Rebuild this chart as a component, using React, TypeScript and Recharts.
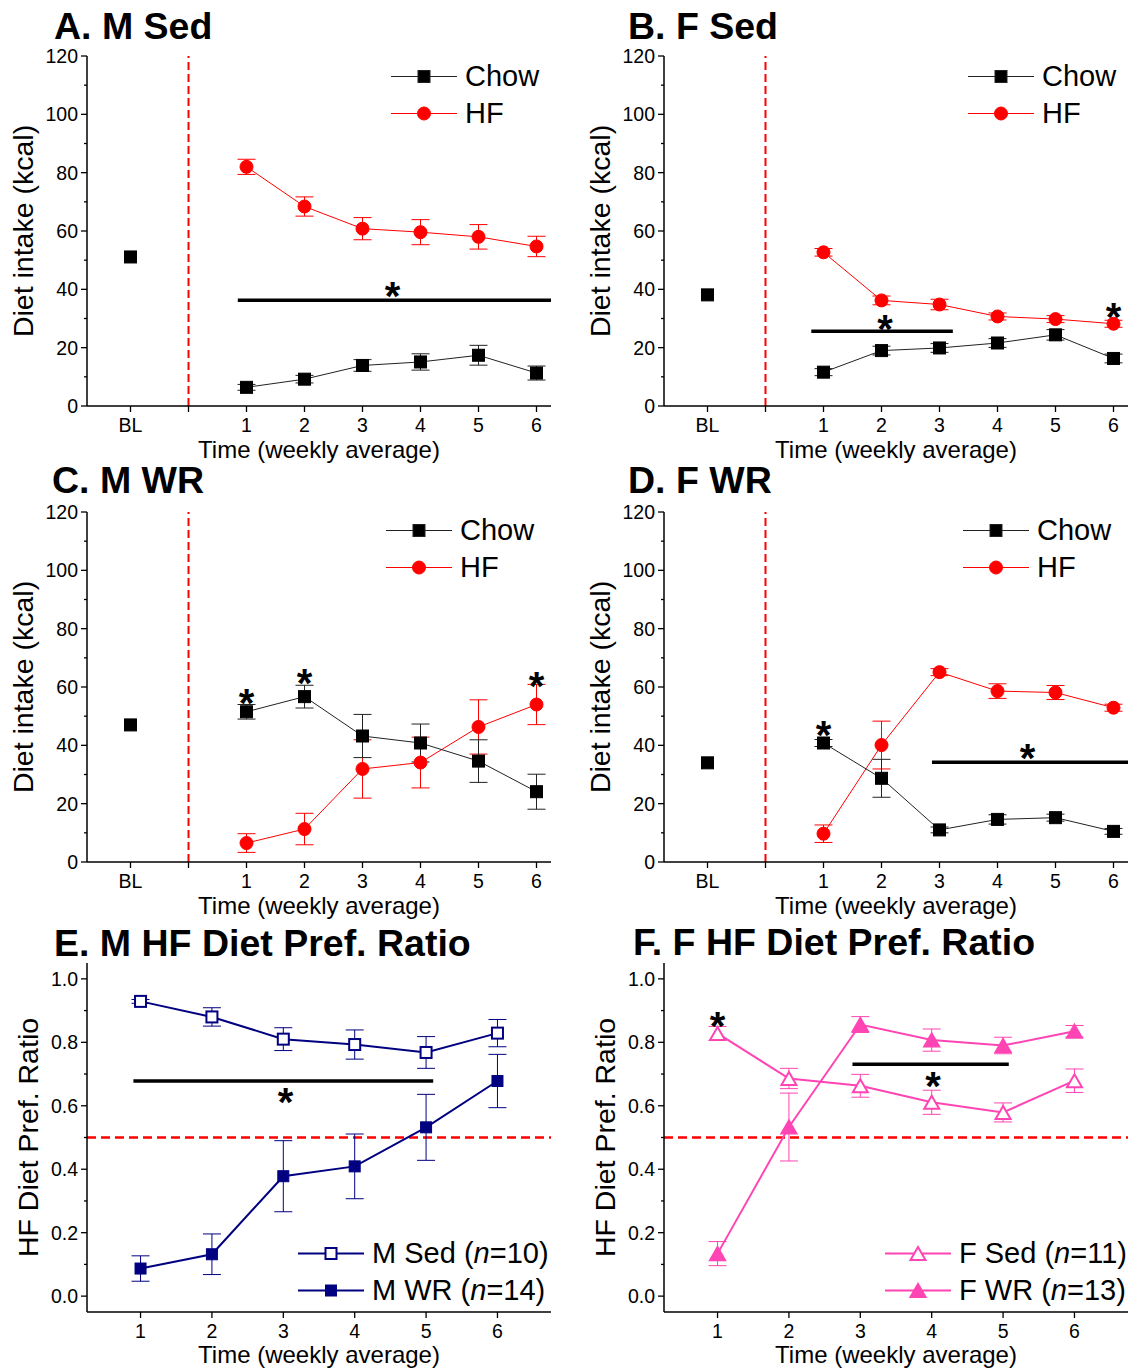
import React from 'react';
import {
  ComposedChart,
  Line,
  Scatter,
  XAxis,
  YAxis,
  ErrorBar,
  ReferenceLine,
  Legend,
  Label,
} from 'recharts';

const FONT = '"Liberation Sans", Arial, sans-serif';
const RED = '#FF0000';
const BLACK = '#000000';
const NAVY = '#000080';
const PINK = '#FF44B4';

const weeks = [1, 2, 3, 4, 5, 6];
const intakeTicks = [0, 10, 20, 30, 40, 50, 60, 70, 80, 90, 100, 110, 120];
const intakeXTicks = [-1, 0, 1, 2, 3, 4, 5, 6];
const ratioTicks = [0, 0.1, 0.2, 0.3, 0.4, 0.5, 0.6, 0.7, 0.8, 0.9, 1.0];

// A. M Sed
const mSedBL = 51.1;
const mSedChow = [6.4, 9.2, 13.9, 15.1, 17.4, 11.3];
const mSedChowErr = [1.0, 1.3, 2.0, 2.8, 3.4, 2.4];
const mSedHF = [82.0, 68.4, 60.8, 59.6, 58.0, 54.7];
const mSedHFErr = [2.6, 3.3, 3.8, 4.3, 4.2, 3.5];

// B. F Sed
const fSedBL = 38.1;
const fSedChow = [11.6, 19.0, 19.9, 21.6, 24.4, 16.3];
const fSedChowErr = [1.2, 1.5, 1.5, 1.5, 1.8, 1.5];
const fSedHF = [52.7, 36.2, 34.8, 30.7, 29.8, 28.2];
const fSedHFErr = [1.3, 1.5, 1.8, 1.2, 1.2, 1.2];

// C. M WR
const mWrBL = 47.0;
const mWrChow = [51.5, 56.7, 43.2, 40.8, 34.6, 24.1];
const mWrChowErr = [2.5, 3.9, 7.4, 6.5, 7.3, 6.0];
const mWrHF = [6.5, 11.3, 31.9, 34.1, 46.3, 54.0];
const mWrHFErr = [3.2, 5.4, 10.0, 8.7, 9.3, 6.9];

// D. F WR
const fWrBL = 34.0;
const fWrChow = [40.8, 28.7, 11.0, 14.6, 15.2, 10.5];
const fWrChowErr = [1.2, 6.5, 1.0, 1.6, 1.2, 1.0];
const fWrHF = [9.7, 40.1, 65.1, 58.6, 58.1, 52.9];
const fWrHFErr = [3.0, 8.2, 1.2, 2.5, 2.4, 1.2];

// E. M HF diet preference ratio
const mSedRatio = [0.929, 0.88, 0.81, 0.793, 0.768, 0.829];
const mSedRatioErr = [0.006, 0.029, 0.036, 0.046, 0.05, 0.043];
const mWrRatio = [0.087, 0.132, 0.378, 0.409, 0.532, 0.678];
const mWrRatioErr = [0.04, 0.064, 0.112, 0.102, 0.104, 0.084];

// F. F HF diet preference ratio
const fSedRatio = [0.828, 0.686, 0.663, 0.611, 0.579, 0.679];
const fSedRatioErr = [0.022, 0.032, 0.036, 0.038, 0.03, 0.037];
const fWrRatio = [0.134, 0.533, 0.856, 0.807, 0.79, 0.835];
const fWrRatioErr = [0.038, 0.107, 0.025, 0.035, 0.026, 0.018];

// significance bars and asterisks
const sigA = [{ x1: 0.85, x2: 6.25, y: 36.3 }];
const starsA = [{ x: 3.52, y: 40.7 }];
const sigB = [{ x1: 0.79, x2: 3.23, y: 25.6 }];
const starsB = [{ x: 2.06, y: 29.6 }, { x: 6, y: 33.6 }];
const sigC: { x1: number; x2: number; y: number }[] = [];
const starsC = [{ x: 1, y: 57.5 }, { x: 2, y: 64.3 }, { x: 6, y: 63.5 }];
const sigD = [{ x1: 2.87, x2: 6.25, y: 34.2 }];
const starsD = [{ x: 1, y: 46.6 }, { x: 4.52, y: 38.6 }];
const sigE = [{ x1: 0.9, x2: 5.1, y: 0.678 }];
const starsE = [{ x: 3.03, y: 0.64 }];
const sigF = [{ x1: 2.89, x2: 5.08, y: 0.731 }];
const starsF = [{ x: 1, y: 0.88 }, { x: 4.02, y: 0.69 }];

const toPoints = (vals: number[], errs: number[]) =>
  weeks.map((x, i) => ({ x, y: vals[i], e: errs[i] }));

type Shape = 'square' | 'circle' | 'triangle';

function Marker({ cx, cy, shape, fill, stroke, size }: any) {
  if (cx == null || cy == null) return null;
  if (shape === 'circle') {
    return <circle cx={cx} cy={cy} r={size / 2} fill={fill} stroke={stroke} strokeWidth={1} />;
  }
  if (shape === 'triangle') {
    const h = size * 0.87;
    const pts = `${cx - size / 2},${cy + h / 2} ${cx + size / 2},${cy + h / 2} ${cx},${cy - h / 2}`;
    return <polygon points={pts} fill={fill} stroke={stroke} strokeWidth={2} />;
  }
  const open = fill === '#fff';
  return (
    <rect
      x={cx - size / 2}
      y={cy - size / 2}
      width={size}
      height={size}
      fill={fill}
      stroke={stroke}
      strokeWidth={open ? 2 : 1}
    />
  );
}

const dotFn = (shape: Shape, fill: string, stroke: string, size: number) => (p: any) => (
  <Marker key={`d-${p.index}`} cx={p.cx} cy={p.cy} shape={shape} fill={fill} stroke={stroke} size={size} />
);

const starShape = (p: any) => (
  <text
    x={p.cx}
    y={p.cy + 23}
    textAnchor="middle"
    fontFamily={FONT}
    fontWeight="bold"
    fontSize={40}
    fill="#000"
  >
    *
  </text>
);

const yTick = (fmt: (v: number) => string, isMajor: (v: number) => boolean) => (p: any) => {
  const v = p.payload.value;
  const major = isMajor(v);
  return (
    <g>
      <line x1={p.x - (major ? 6 : 3)} x2={p.x} y1={p.y} y2={p.y} stroke="#000" strokeWidth={1.3} />
      {major && (
        <text x={p.x - 9} y={p.y + 7} textAnchor="end" fontFamily={FONT} fontSize={19.5} fill="#000">
          {fmt(v)}
        </text>
      )}
    </g>
  );
};

const xTick = (fmt: (v: number) => string) => (p: any) => (
  <g>
    <line x1={p.x} x2={p.x} y1={p.y} y2={p.y + 6} stroke="#000" strokeWidth={1.3} />
    <text x={p.x} y={p.y + 26} textAnchor="middle" fontFamily={FONT} fontSize={19.5} fill="#000">
      {fmt(p.payload.value)}
    </text>
  </g>
);

interface LegendItem {
  label: React.ReactNode;
  color: string;
  lineWidth: number;
  shape: Shape;
  fill: string;
  size: number;
}

function LegendBox({ items }: { items: LegendItem[] }) {
  return (
    <div style={{ fontFamily: FONT, fontSize: 29, color: '#000' }}>
      {items.map((it, i) => (
        <div key={i} style={{ display: 'flex', alignItems: 'center', height: 37 }}>
          <svg width={66} height={37} style={{ display: 'block' }}>
            <line x1={0} x2={66} y1={18.5} y2={18.5} stroke={it.color} strokeWidth={it.lineWidth} />
            <Marker cx={33} cy={18.5} shape={it.shape} fill={it.fill} stroke={it.color} size={it.size} />
          </svg>
          <span style={{ marginLeft: 8, lineHeight: '37px', whiteSpace: 'nowrap' }}>{it.label}</span>
        </div>
      ))}
    </div>
  );
}

// baseline sits about 28px below the top of the 30px line box
function Title({ text, left, baseline }: { text: string; left: number; baseline: number }) {
  return (
    <div
      style={{
        position: 'absolute',
        left,
        top: baseline - 28,
        fontFamily: FONT,
        fontWeight: 'bold',
        fontSize: 37.5,
        lineHeight: '30px',
        whiteSpace: 'nowrap',
        color: '#000',
      }}
    >
      {text}
    </div>
  );
}

interface IntakeProps {
  left: number;
  top: number;
  width: number;
  bl: number;
  chow: number[];
  chowErr: number[];
  hf: number[];
  hfErr: number[];
  sig: { x1: number; x2: number; y: number }[];
  stars: { x: number; y: number }[];
  legend: { left: number; top: number };
}

function IntakePanel(props: IntakeProps) {
  const { left, top, width, bl, chow, chowErr, hf, hfErr, sig, stars, legend } = props;
  const chowPts = toPoints(chow, chowErr);
  const hfPts = toPoints(hf, hfErr);
  const items: LegendItem[] = [
    { label: 'Chow', color: '#222', lineWidth: 1, shape: 'square', fill: BLACK, size: 12 },
    { label: 'HF', color: RED, lineWidth: 1, shape: 'circle', fill: RED, size: 13 },
  ];
  return (
    <div style={{ position: 'absolute', left, top }}>
      <ComposedChart width={width} height={470} margin={{ top: 56, right: width === 560 ? 9 : 5, bottom: 10, left: 0 }}>
        <XAxis
          type="number"
          dataKey="x"
          domain={[-1.75, 6.25]}
          ticks={intakeXTicks}
          interval={0}
          height={54}
          tickSize={0}
          tickMargin={0}
          tickLine={false}
          axisLine={{ stroke: '#000', strokeWidth: 1.5 }}
          tick={xTick((v) => (v === -1 ? 'BL' : v === 0 ? '' : String(v)))}
          allowDataOverflow
        >
          <Label value="Time (weekly average)" position="insideBottom" offset={2} fontSize={24} fill="#000" fontFamily={FONT} />
        </XAxis>
        <YAxis
          type="number"
          domain={[0, 120]}
          ticks={intakeTicks}
          interval={0}
          width={87}
          tickSize={0}
          tickMargin={0}
          tickLine={false}
          axisLine={{ stroke: '#000', strokeWidth: 1.5 }}
          tick={yTick((v) => String(v), (v) => v % 20 === 0)}
          allowDataOverflow
        >
          <Label
            value="Diet intake (kcal)"
            angle={-90}
            position="insideLeft"
            offset={23}
            fontSize={28.5}
            fill="#000"
            fontFamily={FONT}
            style={{ textAnchor: 'middle' }}
          />
        </YAxis>
        <ReferenceLine x={0} stroke={RED} strokeWidth={2} strokeDasharray="8 4" />
        {sig.map((s, i) => (
          <ReferenceLine
            key={i}
            segment={[{ x: s.x1, y: s.y }, { x: s.x2, y: s.y }]}
            stroke="#000"
            strokeWidth={3.5}
          />
        ))}
        <Line
          data={hfPts}
          dataKey="y"
          stroke={RED}
          strokeWidth={1}
          dot={dotFn('circle', RED, RED, 13)}
          activeDot={false}
          isAnimationActive={false}
          legendType="none"
        >
          <ErrorBar dataKey="e" width={9} stroke={RED} strokeWidth={1} direction="y" />
        </Line>
        <Line
          data={chowPts}
          dataKey="y"
          stroke="#222"
          strokeWidth={1}
          dot={dotFn('square', BLACK, BLACK, 12)}
          activeDot={false}
          isAnimationActive={false}
          legendType="none"
        >
          <ErrorBar dataKey="e" width={9} stroke="#222" strokeWidth={1} direction="y" />
        </Line>
        <Scatter
          data={[{ x: -1, y: bl }]}
          dataKey="y"
          shape={(p: any) => <Marker cx={p.cx} cy={p.cy} shape="square" fill={BLACK} stroke={BLACK} size={12} />}
          isAnimationActive={false}
          legendType="none"
        />
        <Scatter data={stars} dataKey="y" shape={starShape} isAnimationActive={false} legendType="none" />
        <Legend
          layout="vertical"
          align="center"
          verticalAlign="middle"
          wrapperStyle={{ left: legend.left, top: legend.top }}
          content={() => <LegendBox items={items} />}
        />
      </ComposedChart>
    </div>
  );
}

interface RatioProps {
  left: number;
  top: number;
  width: number;
  color: string;
  sed: number[];
  sedErr: number[];
  wr: number[];
  wrErr: number[];
  shape: Shape;
  size: number;
  sedLabel: [string, string];
  wrLabel: [string, string];
  sig: { x1: number; x2: number; y: number }[];
  stars: { x: number; y: number }[];
  legend: { left: number; top: number };
}

function RatioPanel(props: RatioProps) {
  const { left, top, width, color, sed, sedErr, wr, wrErr, shape, size, sig, stars, legend } = props;
  const sedPts = toPoints(sed, sedErr);
  const wrPts = toPoints(wr, wrErr);
  const lbl = (l: [string, string]) => (
    <>
      {l[0]} (<i>n</i>={l[1]})
    </>
  );
  const items: LegendItem[] = [
    { label: lbl(props.sedLabel), color, lineWidth: 2, shape, fill: '#fff', size },
    { label: lbl(props.wrLabel), color, lineWidth: 2, shape, fill: color, size },
  ];
  return (
    <div style={{ position: 'absolute', left, top }}>
      <ComposedChart width={width} height={460} margin={{ top: 53, right: width === 560 ? 9 : 5, bottom: 4, left: 0 }}>
        <XAxis
          type="number"
          dataKey="x"
          domain={[0.25, 6.75]}
          ticks={weeks}
          interval={0}
          height={54}
          tickSize={0}
          tickMargin={0}
          tickLine={false}
          axisLine={{ stroke: '#000', strokeWidth: 1.5 }}
          tick={xTick((v) => String(v))}
          allowDataOverflow
        >
          <Label value="Time (weekly average)" position="insideBottom" offset={3} fontSize={24} fill="#000" fontFamily={FONT} />
        </XAxis>
        <YAxis
          type="number"
          domain={[-0.05, 1.05]}
          ticks={ratioTicks}
          interval={0}
          width={87}
          tickSize={0}
          tickMargin={0}
          tickLine={false}
          axisLine={{ stroke: '#000', strokeWidth: 1.5 }}
          tick={yTick((v) => v.toFixed(1), (v) => Math.round(v * 10) % 2 === 0)}
          allowDataOverflow
        >
          <Label
            value="HF Diet Pref. Ratio"
            angle={-90}
            position="insideLeft"
            offset={28}
            fontSize={28.5}
            fill="#000"
            fontFamily={FONT}
            style={{ textAnchor: 'middle' }}
          />
        </YAxis>
        <ReferenceLine y={0.5} stroke={RED} strokeWidth={2.5} strokeDasharray="9 5" />
        {sig.map((s, i) => (
          <ReferenceLine
            key={i}
            segment={[{ x: s.x1, y: s.y }, { x: s.x2, y: s.y }]}
            stroke="#000"
            strokeWidth={3.5}
          />
        ))}
        <Line
          data={sedPts}
          dataKey="y"
          stroke={color}
          strokeWidth={2}
          dot={dotFn(shape, '#fff', color, size)}
          activeDot={false}
          isAnimationActive={false}
          legendType="none"
        >
          <ErrorBar dataKey="e" width={9} stroke={color} strokeWidth={1} direction="y" />
        </Line>
        <Line
          data={wrPts}
          dataKey="y"
          stroke={color}
          strokeWidth={2}
          dot={dotFn(shape, color, color, size)}
          activeDot={false}
          isAnimationActive={false}
          legendType="none"
        >
          <ErrorBar dataKey="e" width={9} stroke={color} strokeWidth={1} direction="y" />
        </Line>
        <Scatter data={stars} dataKey="y" shape={starShape} isAnimationActive={false} legendType="none" />
        <Legend
          layout="vertical"
          align="center"
          verticalAlign="middle"
          wrapperStyle={{ left: legend.left, top: legend.top }}
          content={() => <LegendBox items={items} />}
        />
      </ComposedChart>
    </div>
  );
}

export default function App() {
  return (
    <div style={{ position: 'absolute', left: 0, top: 0, width: 1133, height: 1370, background: '#fff', overflow: 'hidden' }}>
      <IntakePanel
        left={0}
        top={0}
        width={560}
        bl={mSedBL}
        chow={mSedChow}
        chowErr={mSedChowErr}
        hf={mSedHF}
        hfErr={mSedHFErr}
        sig={sigA}
        stars={starsA}
        legend={{ left: 391, top: 58 }}
      />
      <IntakePanel
        left={577}
        top={0}
        width={556}
        bl={fSedBL}
        chow={fSedChow}
        chowErr={fSedChowErr}
        hf={fSedHF}
        hfErr={fSedHFErr}
        sig={sigB}
        stars={starsB}
        legend={{ left: 391, top: 58 }}
      />
      <IntakePanel
        left={0}
        top={456}
        width={560}
        bl={mWrBL}
        chow={mWrChow}
        chowErr={mWrChowErr}
        hf={mWrHF}
        hfErr={mWrHFErr}
        sig={sigC}
        stars={starsC}
        legend={{ left: 386, top: 56 }}
      />
      <IntakePanel
        left={577}
        top={456}
        width={556}
        bl={fWrBL}
        chow={fWrChow}
        chowErr={fWrChowErr}
        hf={fWrHF}
        hfErr={fWrHFErr}
        sig={sigD}
        stars={starsD}
        legend={{ left: 386, top: 56 }}
      />
      <RatioPanel
        left={0}
        top={910}
        width={560}
        color={NAVY}
        sed={mSedRatio}
        sedErr={mSedRatioErr}
        wr={mWrRatio}
        wrErr={mWrRatioErr}
        shape="square"
        size={11}
        sedLabel={['M Sed', '10']}
        wrLabel={['M WR', '14']}
        sig={sigE}
        stars={starsE}
        legend={{ left: 298, top: 325 }}
      />
      <RatioPanel
        left={577}
        top={910}
        width={556}
        color={PINK}
        sed={fSedRatio}
        sedErr={fSedRatioErr}
        wr={fWrRatio}
        wrErr={fWrRatioErr}
        shape="triangle"
        size={15}
        sedLabel={['F Sed', '11']}
        wrLabel={['F WR', '13']}
        sig={sigF}
        stars={starsF}
        legend={{ left: 308, top: 325 }}
      />
      <Title text="A. M Sed" left={54} baseline={39} />
      <Title text="B. F Sed" left={628} baseline={39} />
      <Title text="C. M WR" left={52} baseline={493} />
      <Title text="D. F WR" left={628} baseline={493} />
      <Title text="E. M HF Diet Pref. Ratio" left={54} baseline={956} />
      <Title text="F. F HF Diet Pref. Ratio" left={633} baseline={955} />
    </div>
  );
}
